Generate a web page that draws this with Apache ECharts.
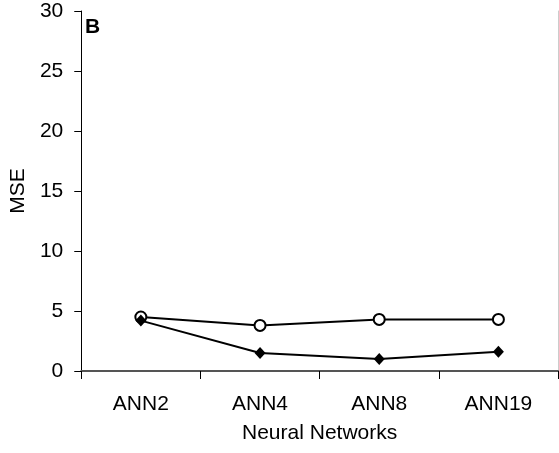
<!DOCTYPE html>
<html>
<head>
<meta charset="utf-8">
<script src="https://cdn.jsdelivr.net/npm/echarts@6/dist/echarts.min.js"></script>
<style>
  html, body { margin: 0; padding: 0; background: #fff; }
  #chart { width: 559px; height: 453px; }
</style>
</head>
<body>
<div id="chart"></div>
<script>
const categories = ["ANN2", "ANN4", "ANN8", "ANN19"];
const openSeries = [4.5, 3.8, 4.3, 4.3];
const filledSeries = [4.2, 1.5, 1.0, 1.6];
const yTicks = { min: 0, max: 30, step: 5 };

const chart = echarts.init(document.getElementById("chart"));
const font = "Liberation Sans, Arial, sans-serif";

chart.setOption({
  backgroundColor: "#fff",
  animation: false,
  textStyle: { fontFamily: font },
  graphic: [
    {
      type: "text",
      left: 85,
      top: 17,
      style: { text: "B", font: "bold 21px " + font, fill: "#000" }
    }
  ],
  grid: { left: 79, right: 1, top: 11, bottom: 82 },
  xAxis: [
    {
      type: "category",
      data: categories,
      boundaryGap: true,
      name: "Neural Networks",
      nameLocation: "middle",
      nameGap: 52,
      nameTextStyle: { color: "#000", fontSize: 21, fontFamily: font },
      axisLine: { lineStyle: { color: "#000", width: 1 } },
      axisTick: { show: true, length: 8, lineStyle: { color: "#000" } },
      axisLabel: { color: "#000", fontSize: 21, margin: 23, fontFamily: font },
      splitLine: { show: false }
    },
    {
      type: "category",
      data: categories,
      position: "top",
      axisLine: { show: true, lineStyle: { color: "#555", width: 2 } },
      axisTick: { show: false },
      axisLabel: { show: false },
      splitLine: { show: false }
    }
  ],
  yAxis: [
    {
      type: "value",
      min: yTicks.min,
      max: yTicks.max,
      interval: yTicks.step,
      name: "MSE",
      nameLocation: "middle",
      nameGap: 43,
      nameTextStyle: { color: "#000", fontSize: 21, fontFamily: font },
      axisLine: { show: true, lineStyle: { color: "#000", width: 1 } },
      axisTick: { show: true, length: 7, lineStyle: { color: "#000" } },
      axisLabel: { color: "#000", fontSize: 21, margin: 18, fontFamily: font },
      splitLine: { show: false }
    },
    {
      type: "value",
      min: yTicks.min,
      max: yTicks.max,
      position: "right",
      axisLine: { show: true, lineStyle: { color: "#ccc", width: 1 } },
      axisTick: { show: false },
      axisLabel: { show: false },
      splitLine: { show: false }
    }
  ],
  series: [
    {
      name: "open",
      type: "line",
      data: openSeries,
      symbol: "emptyCircle",
      symbolSize: 11,
      lineStyle: { color: "#000", width: 2 },
      itemStyle: { color: "#000", borderColor: "#000", borderWidth: 1 }
    },
    {
      name: "filled",
      type: "line",
      data: filledSeries,
      symbol: "diamond",
      symbolSize: [11, 12],
      lineStyle: { color: "#000", width: 2 },
      itemStyle: { color: "#000" }
    }
  ]
});
</script>
</body>
</html>
